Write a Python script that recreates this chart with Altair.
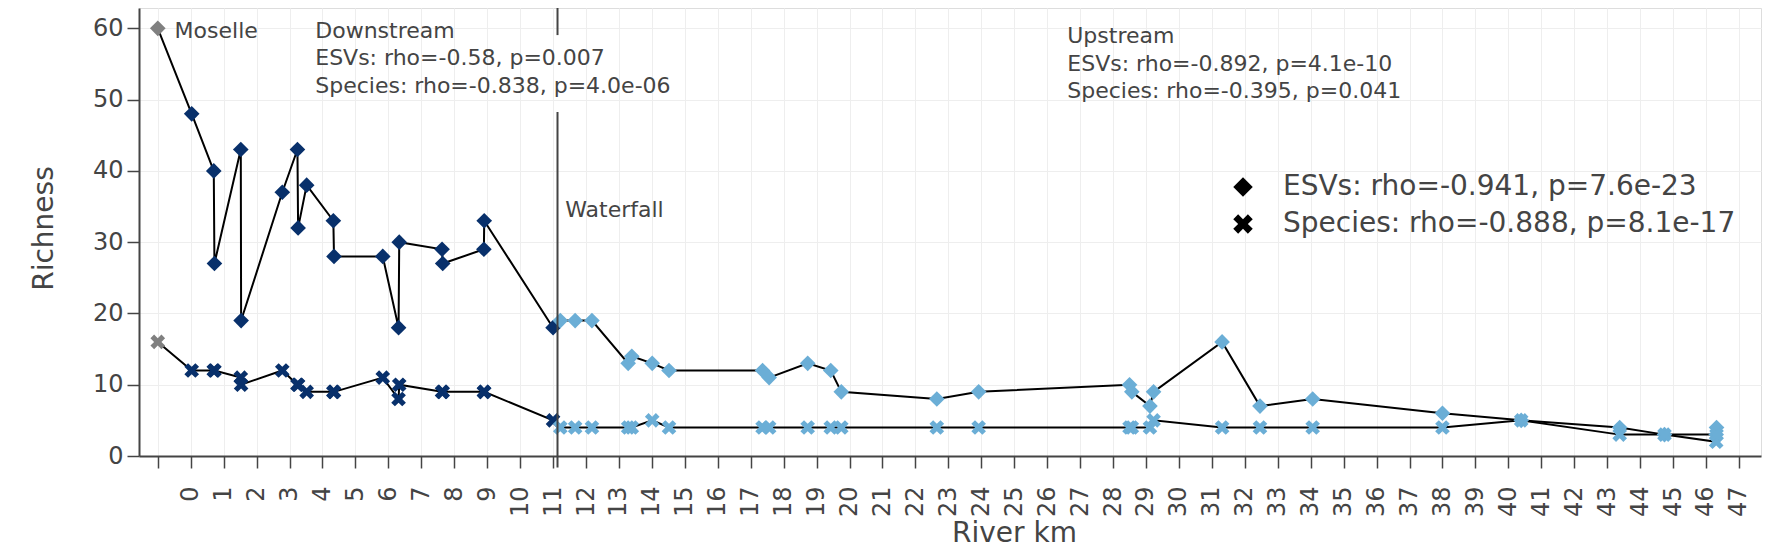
import altair as alt
import pandas as pd

# ---- data ----
KM = [-1.0, 0.03, 0.70, 0.72, 1.52, 1.53, 2.78, 3.24, 3.26, 3.52, 4.33, 4.35, 5.83, 6.31, 6.33,
      7.63, 7.65, 8.90, 8.91, 11.0,
      11.22, 11.67, 12.18, 13.28, 13.39, 14.01, 14.52, 17.36, 17.56, 18.73, 19.43, 19.75,
      22.65, 23.92, 28.50, 28.57, 29.12, 29.23, 31.31, 32.46, 34.06, 38.00, 40.39, 43.38,
      44.74, 46.31, 46.32]
REGION = (["Moselle"] + ["Downstream"] * 19 + ["Upstream"] * 27)
ESVS = [60, 48, 40, 27, 43, 19, 37, 43, 32, 38, 33, 28, 28, 18, 30, 29, 27, 29, 33, 18,
        19, 19, 19, 13, 14, 13, 12, 12, 11, 13, 12, 9, 8, 9, 10, 9, 7, 9, 16, 7, 8, 6, 5, 4,
        3, 3, 4]
SPECIES = [16, 12, 12, 12, 11, 10, 12, 10, 10, 9, 9, 9, 11, 8, 10, 9, 9, 9, 9, 5,
           4, 4, 4, 4, 4, 5, 4, 4, 4, 4, 4, 4, 4, 4, 4, 4, 4, 5, 4, 4, 4, 4, 5, 3,
           3, 2, 3]

ESV_LABEL = "ESVs: rho=-0.941, p=7.6e-23"
SPECIES_LABEL = "Species: rho=-0.888, p=8.1e-17"

X_TICKS = list(range(-1, 48))
Y_TICKS = [0, 10, 20, 30, 40, 50, 60]

ANN_TEXT = ["Moselle", "Downstream", "ESVs: rho=-0.58, p=0.007", "Species: rho=-0.838, p=4.0e-06",
            "Upstream", "ESVs: rho=-0.892, p=4.1e-10", "Species: rho=-0.395, p=0.041", "Waterfall"]
ANN_X = [-0.49, 3.78, 3.78, 3.78, 26.61, 26.61, 26.61, 11.37]
ANN_Y = [58.6, 58.6, 54.8, 50.9, 58.0, 54.05, 50.2, 33.55]

WATERFALL_KM = 11.135
WATERFALL_Y = [62.85, 48.25]
WATERFALL_Y2 = [59.05, -1.6]

REGIONS = ["Moselle", "Downstream", "Upstream"]
REGION_COLORS = ["#808080", "#08306b", "#6baed6"]
# plotly-like thick "x" symbol in the unit square
XPATH = ("M0,0.5L0.5,1L1,0.5L0.5,0L1,-0.5L0.5,-1L0,-0.5L-0.5,-1L-1,-0.5L-0.5,0"
         "L-1,0.5L-0.5,1Z")

# ---- tables ----
rows = []
for i, (k, r, e, s) in enumerate(zip(KM, REGION, ESVS, SPECIES)):
    rows.append(dict(km=k, region=r, value=e, metric=ESV_LABEL, order=i))
    rows.append(dict(km=k, region=r, value=s, metric=SPECIES_LABEL, order=i))
df = pd.DataFrame(rows)
ann = pd.DataFrame(dict(x=ANN_X, y=ANN_Y, text=ANN_TEXT))
wf = pd.DataFrame(dict(x=[WATERFALL_KM] * 2, y=WATERFALL_Y, y2=WATERFALL_Y2))

FONT = "DejaVu Sans"
TXT = "#444444"

xscale = alt.Scale(domain=[-1.57, 47.67], nice=False, zero=False)
yscale = alt.Scale(domain=[0, 62.85], nice=False, zero=False)

xaxis = alt.Axis(values=X_TICKS, labelExpr="datum.value < 0 ? '' : datum.label",
                 grid=True, gridColor="#eeeeee", gridWidth=1,
                 tickSize=12, tickColor=TXT, tickWidth=1.5,
                 domainColor=TXT, domainWidth=2,
                 labelAngle=270, labelFontSize=24, labelColor=TXT, labelPadding=18,
                 labelFlush=False, labelOverlap=False, labelBound=False, labelFont=FONT,
                 title="River km", titleFontSize=28, titleColor=TXT, titleFontWeight="normal",
                 titleFont=FONT, titleX=875, titleY=85, titleBaseline="alphabetic",
                 titleAlign="center")
yaxis = alt.Axis(values=Y_TICKS, grid=True, gridColor="#eeeeee", gridWidth=1,
                 tickSize=12, tickColor=TXT, tickWidth=1.5,
                 domainColor=TXT, domainWidth=2,
                 labelFontSize=24, labelColor=TXT, labelPadding=4, labelFont=FONT,
                 labelFlush=False, labelOverlap=False,
                 title="Richness", titleFontSize=28, titleColor=TXT, titleFontWeight="normal",
                 titleFont=FONT, titleX=-87, titleY=220, titleBaseline="alphabetic",
                 titleAngle=270, titleAlign="center")

X = alt.X("km:Q", scale=xscale, axis=xaxis)
Y = alt.Y("value:Q", scale=yscale, axis=yaxis)

shape_enc = alt.Shape(
    "metric:N",
    scale=alt.Scale(domain=[ESV_LABEL, SPECIES_LABEL], range=["diamond", XPATH]),
    legend=alt.Legend(title=None, orient="none", legendX=1090, legendY=165,
                      labelFontSize=28, labelColor=TXT, labelFont=FONT,
                      labelLimit=1000, symbolSize=380,
                      symbolFillColor="black", symbolStrokeColor="black",
                      symbolStrokeWidth=0, symbolOpacity=1,
                      labelOffset=26, rowPadding=9, padding=0))
color_enc = alt.Color("region:N", scale=alt.Scale(domain=REGIONS, range=REGION_COLORS),
                      legend=None)

lines = alt.Chart(df).mark_line(color="black", strokeWidth=2).encode(
    x=X, y=Y, detail="metric:N", order="order:Q")

pts_esv = alt.Chart(df).transform_filter(alt.datum.metric == ESV_LABEL).mark_point(
    filled=True, size=245, opacity=1, strokeWidth=0).encode(
    x=X, y=Y, color=color_enc, shape=shape_enc, order="order:Q")

pts_sp = alt.Chart(df).transform_filter(alt.datum.metric == SPECIES_LABEL).mark_point(
    filled=True, size=215, opacity=1, strokeWidth=0).encode(
    x=X, y=Y, color=color_enc, shape=shape_enc, order="order:Q")

rules = alt.Chart(wf).mark_rule(color=TXT, strokeWidth=2).encode(
    x=alt.X("x:Q", scale=xscale, axis=xaxis),
    y=alt.Y("y:Q", scale=yscale, axis=yaxis),
    y2="y2:Q")

texts = alt.Chart(ann).mark_text(align="left", baseline="alphabetic", fontSize=22,
                                 font=FONT, color=TXT).encode(
    x=alt.X("x:Q", scale=xscale, axis=xaxis),
    y=alt.Y("y:Q", scale=yscale, axis=yaxis),
    text="text:N")

chart = alt.layer(lines, pts_esv, pts_sp, texts, rules).properties(
    width=1622, height=448,
    autosize=alt.AutoSizeParams(type="none"),
    padding={"left": 131, "top": 0, "right": 19, "bottom": 93},
    background="white",
).configure_view(stroke=None).configure(font=FONT)

chart.save("out.html", embed_options={"renderer": "svg", "actions": False})
